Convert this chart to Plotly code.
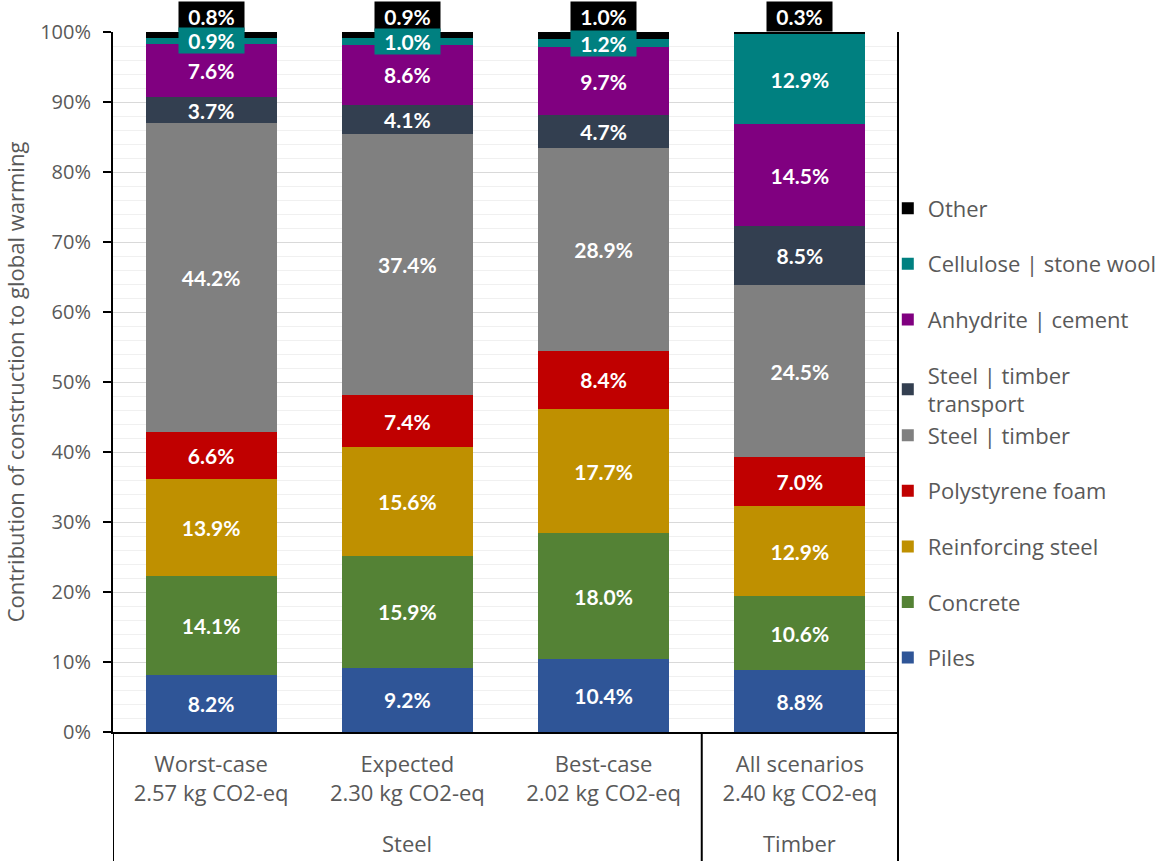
import plotly.graph_objects as go

# Scenarios (inner category) and building system (outer category)
scenarios = ["Worst-case<br>2.57 kg CO2-eq", "Expected<br>2.30 kg CO2-eq",
             "Best-case<br>2.02 kg CO2-eq", "All scenarios<br>2.40 kg CO2-eq"]
systems = ["Steel", "Timber"]

# Share of each component in global warming contribution (%), bottom to top
piles = [8.2, 9.2, 10.4, 8.8]
concrete = [14.1, 15.9, 18.0, 10.6]
reinforcing_steel = [13.9, 15.6, 17.7, 12.9]
polystyrene_foam = [6.6, 7.4, 8.4, 7.0]
steel_timber = [44.2, 37.4, 28.9, 24.5]
steel_timber_transport = [3.7, 4.1, 4.7, 8.5]
anhydrite_cement = [7.6, 8.6, 9.7, 14.5]
cellulose_stone_wool = [0.9, 1.0, 1.2, 12.9]
other = [0.8, 0.9, 1.0, 0.3]

series = [
    ("Piles", piles, "#2F5597", "g1"),
    ("Concrete", concrete, "#548235", "g2"),
    ("Reinforcing steel", reinforcing_steel, "#BF9000", "g3"),
    ("Polystyrene foam", polystyrene_foam, "#C00000", "g4"),
    ("Steel | timber", steel_timber, "#808080", "g5"),
    ("Steel | timber<br>transport", steel_timber_transport, "#333F50", "g5"),
    ("Anhydrite | cement", anhydrite_cement, "#800080", "g6"),
    ("Cellulose | stone wool", cellulose_stone_wool, "#008080", "g7"),
    ("Other", other, "#000000", "g8"),
]

# Segments too thin for an inside label get a boxed label instead
SMALL = 2.0

TEXT_GRAY = "#595959"
TEXT_FONT = "Open Sans"
LABEL_FONT = dict(family="Lato", size=21, color="white", weight="bold")

fig = go.Figure()
n = len(series)
for k, (name, vals, color, grp) in enumerate(series):
    texts = [f"{v:.1f}%" if v >= SMALL else "" for v in vals]
    fig.add_trace(go.Bar(
        x=scenarios, y=vals, name=name, legendgroup=grp, legendrank=n - k,
        marker=dict(color=color, line=dict(width=0)),
        text=texts, textposition="inside", insidetextanchor="middle",
        textangle=0, constraintext="none", textfont=LABEL_FONT,
        hovertemplate="%{y:.1f}%<extra>" + name.replace("<br>", " ") + "</extra>",
    ))

# Boxed labels for thin segments, placed from the cumulative stack heights
annotations = []
cum = [0.0] * len(scenarios)
boxed = []
for name, vals, color, grp in series:
    for i, v in enumerate(vals):
        lo = cum[i]
        cum[i] += v
        if v < SMALL:
            boxed.append((name, i, lo, cum[i], v, color))

# "Other" boxes sit on top of the stack; draw them first so others overlap them
for name, i, lo, hi, v, color in sorted(boxed, key=lambda b: b[0] != "Other"):
    if name == "Other":
        annotations.append(dict(
            x=scenarios[i], y=min(hi, 100), xref="x", yref="y",
            text=f"{v:.1f}%", showarrow=False, yanchor="bottom",
            bgcolor=color, font=LABEL_FONT, width=61, height=25,
            borderpad=2))
    else:
        annotations.append(dict(
            x=scenarios[i], y=(lo + hi) / 2, xref="x", yref="y",
            text=f"{v:.1f}%", showarrow=False, yanchor="middle",
            bgcolor=color, font=LABEL_FONT, width=61, height=21,
            borderpad=2))

# Outer category labels
for xpos, label in ((1, systems[0]), (3, systems[1])):
    annotations.append(dict(x=xpos, y=-0.1586, xref="x", yref="paper", text=label,
                            showarrow=False, yanchor="middle",
                            font=dict(family=TEXT_FONT, size=22, color=TEXT_GRAY)))

# Right-hand border of the plot and category separators below the axis
shapes = [
    dict(type="line", xref="paper", yref="paper", x0=1, x1=1, y0=1, y1=-0.19,
         line=dict(color="black", width=2)),
]
for xs in (-0.5, 2.5):
    shapes.append(dict(type="line", xref="x", yref="paper", x0=xs, x1=xs,
                       y0=0, y1=-0.19, line=dict(color="black", width=2)))

fig.update_layout(
    width=1167, height=861,
    margin=dict(l=113, r=269, t=32, b=129, autoexpand=False),
    barmode="stack", bargap=0.333,
    plot_bgcolor="white", paper_bgcolor="white",
    font=dict(family=TEXT_FONT, size=22, color=TEXT_GRAY),
    uniformtext=dict(minsize=21, mode="show"),
    showlegend=True,
    legend=dict(
        x=0.987, xanchor="left", y=0.778, yanchor="top",
        traceorder="grouped", tracegroupgap=24,
        font=dict(family=TEXT_FONT, size=22, color=TEXT_GRAY),
        bgcolor="rgba(0,0,0,0)",
    ),
    xaxis=dict(
        type="category", range=[-0.5, 3.5],
        showline=True, linecolor="black", linewidth=2,
        ticks="", showgrid=False,
        tickfont=dict(family=TEXT_FONT, size=22, color=TEXT_GRAY),
        ticklabelstandoff=12,
    ),
    yaxis=dict(
        range=[0, 100], dtick=10, ticksuffix="%",
        showline=True, linecolor="black", linewidth=2,
        ticks="outside", ticklen=8, tickwidth=2, tickcolor="black",
        showgrid=True, gridcolor="#D9D9D9", gridwidth=1,
        minor=dict(dtick=2, showgrid=True, gridcolor="#F0F0F0", gridwidth=1),
        tickfont=dict(family=TEXT_FONT, size=20, color=TEXT_GRAY),
        ticklabelstandoff=8,
        title=dict(text="Contribution of construction to global warming",
                   font=dict(family=TEXT_FONT, size=22, color=TEXT_GRAY), standoff=16),
        zeroline=False,
    ),
    annotations=annotations,
    shapes=shapes,
)

fig.write_html("out.html")
